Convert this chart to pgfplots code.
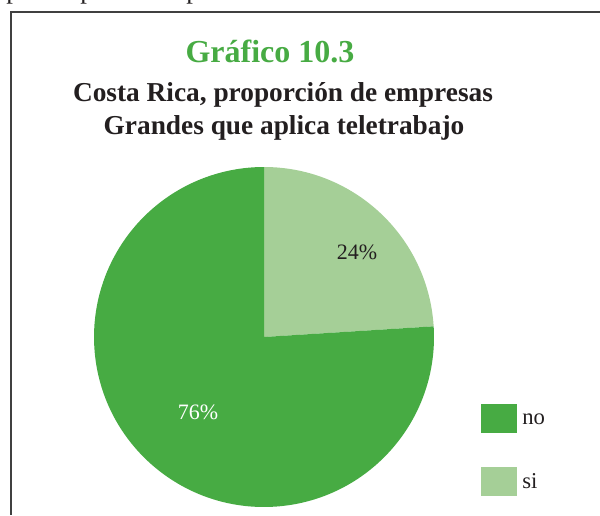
\documentclass[border=0pt]{standalone}
\usepackage{pgfplots}
\pgfplotsset{compat=1.18}
\usepackage{pgfplotstable}
\usepackage{fontspec}
\setmainfont{Liberation Serif}
\definecolor{dkgreen}{RGB}{71,171,67}
\definecolor{ltgreen}{RGB}{165,207,151}
\definecolor{ink}{RGB}{35,31,32}

% share of large firms, percent
\pgfplotstableread{
cat  val
si   24
no   76
}\piedata

\begin{document}
\begin{tikzpicture}[x=0.75pt,y=0.75pt]
  \useasboundingbox (0,0) rectangle (600,515);

  % descenders of the text line above, cut off by the page edge
  \begin{scope}
    \clip (0,505) rectangle (600,515);
    \foreach \px in {13,87,193} {
      \node[anchor=base,text=ink,inner sep=0pt,font=\fontsize{20}{24}\selectfont] at (\px,516) {p};
    }
  \end{scope}

  % frame (top and left only)
  \draw[black!75,line width=1pt] (600,503) -- (11,503) -- (11,0);

  % titles
  \node[anchor=base,text=dkgreen,font=\fontsize{24}{28}\selectfont\bfseries] at (270,452) {Gráfico 10.3};
  \node[anchor=base,text=ink,font=\fontsize{20.5}{24}\selectfont\bfseries] at (283,413) {Costa Rica, proporción de empresas};
  \node[anchor=base,text=ink,font=\fontsize{20.5}{24}\selectfont\bfseries] at (284,380) {Grandes que aplica teletrabajo};

  \pgfplotstablegetelem{0}{val}\of\piedata \edef\vsi{\pgfplotsretval}
  \pgfplotstablegetelem{1}{val}\of\piedata \edef\vno{\pgfplotsretval}
  \pgfmathsetmacro{\asi}{90-3.6*\vsi}
  \pgfmathsetmacro{\cx}{cos(\asi)}
  \pgfmathsetmacro{\cy}{sin(\asi)}

  \coordinate (pc) at (264,178);
  \begin{axis}[
      at={(pc)}, anchor=center,
      width=255pt, height=255pt, scale only axis,
      xmin=-1, xmax=1, ymin=-1, ymax=1,
      hide axis, clip=false,
  ]
    % slices, clockwise from twelve o'clock
    \fill[ltgreen] (axis cs:0,0) -- (axis cs:0,1) arc[start angle=90, end angle=\asi, radius=127.5pt] -- cycle;
    \fill[dkgreen] (axis cs:0,0) -- (axis cs:\cx,\cy) arc[start angle=\asi, end angle=-270, radius=127.5pt] -- cycle;

    \node[text=ink,font=\fontsize{16.5}{18}\selectfont] at (axis cs:0.547,0.50) {\vsi\%};
    \node[text=white,font=\fontsize{16.5}{18}\selectfont] at (axis cs:-0.388,-0.441) {\vno\%};
  \end{axis}

  % legend
  \fill[dkgreen] (481,82) rectangle (517,111);
  \fill[ltgreen] (481,19) rectangle (517,48);
  \node[anchor=west,text=ink,font=\fontsize{17}{18}\selectfont,inner sep=0pt] at (522,96) {no};
  \node[anchor=west,text=ink,font=\fontsize{17}{18}\selectfont,inner sep=0pt] at (522,34) {si};
\end{tikzpicture}
\end{document}
